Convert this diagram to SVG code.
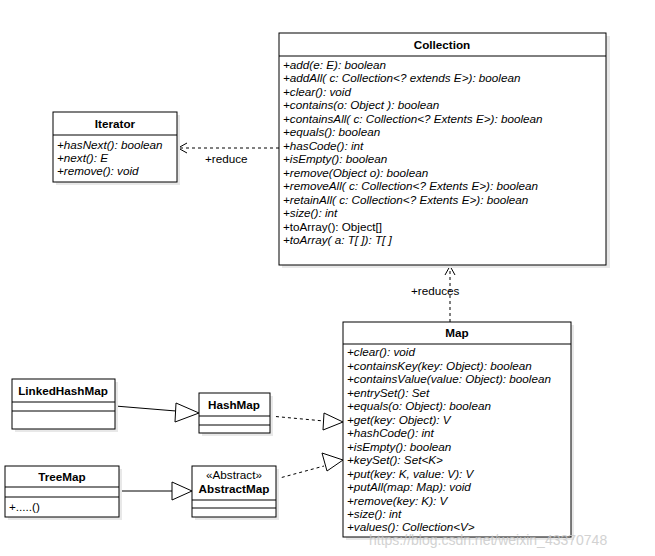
<svg xmlns="http://www.w3.org/2000/svg" width="655" height="556" viewBox="0 0 655 556">
<style>
.box{fill:#fff;stroke:#000;stroke-width:1}
.sh{fill:#e8e8e8}
.t{font-family:"Liberation Sans",Arial,sans-serif;font-size:11.7px;fill:#000}
.i{font-style:italic}
.b{font-weight:bold}
.c{text-anchor:middle}
.sl{stroke:#000;stroke-width:1;fill:none}
.dl{stroke:#000;stroke-width:1;fill:none;stroke-dasharray:3 3}
.tri{fill:#fff;stroke:#000;stroke-width:1}
.wm{font-family:"Liberation Sans",Arial,sans-serif;font-size:14px;fill:#c8c8c8;opacity:0.8}
</style>
<defs>
<marker id="open" markerWidth="12" markerHeight="12" refX="10" refY="6" orient="auto" markerUnits="userSpaceOnUse">
<path d="M1,1 L10,6 L1,11" fill="none" stroke="#000" stroke-width="1"/>
</marker>
</defs>
<rect width="655" height="556" fill="#fff"/>

<g id="connectors">
<line class="dl" x1="279" y1="148" x2="178" y2="148" marker-end="url(#open)"/>
<text class="t" x="205" y="163">+reduce</text>
<line class="dl" x1="450" y1="322" x2="450" y2="266" marker-end="url(#open)"/>
<text class="t" x="411" y="295">+reduces</text>
<line class="sl" x1="115" y1="406" x2="176" y2="411"/>
<polygon class="tri" points="199,413 176,403 175,422"/>
<line class="dl" x1="270" y1="416" x2="324" y2="421"/>
<polygon class="tri" points="343,422 324,413 323,430"/>
<line class="sl" x1="119" y1="491" x2="172" y2="491"/>
<polygon class="tri" points="192,491 172,482 172,500"/>
<line class="dl" x1="276" y1="479" x2="324" y2="466"/>
<polygon class="tri" points="343,460 322,453 327,471"/>
</g>

<g id="Collection">
<rect class="sh" x="282" y="36" width="328" height="232"/>
<rect class="box" x="279" y="33" width="327" height="232"/>
<line class="sl" x1="279" y1="56" x2="606" y2="56"/>
<text class="t b c" x="442" y="49">Collection</text>
<text class="t i" x="283" y="69">+add(e: E): boolean</text>
<text class="t i" x="283" y="82">+addAll( c: Collection&lt;? extends E&gt;): boolean</text>
<text class="t i" x="283" y="96">+clear(): void</text>
<text class="t i" x="283" y="109">+contains(o: Object ): boolean</text>
<text class="t i" x="283" y="123">+containsAll( c: Collection&lt;? Extents E&gt;): boolean</text>
<text class="t i" x="283" y="136">+equals(): boolean</text>
<text class="t i" x="283" y="150">+hasCode(): int</text>
<text class="t i" x="283" y="163">+isEmpty(): boolean</text>
<text class="t i" x="283" y="177">+remove(Object o): boolean</text>
<text class="t i" x="283" y="190">+removeAll( c: Collection&lt;? Extents E&gt;): boolean</text>
<text class="t i" x="283" y="204">+retainAll( c: Collection&lt;? Extents E&gt;): boolean</text>
<text class="t i" x="283" y="217">+size(): int</text>
<text class="t" x="283" y="231">+toArray(): Object[]</text>
<text class="t i" x="283" y="244">+toArray( a: T[ ]): T[ ]</text>
</g>

<g id="Iterator">
<rect class="sh" x="56" y="115" width="124" height="70"/>
<rect class="box" x="53" y="112" width="124" height="70"/>
<line class="sl" x1="53" y1="135" x2="177" y2="135"/>
<text class="t b c" x="115" y="128">Iterator</text>
<text class="t i" x="57" y="149">+hasNext(): boolean</text>
<text class="t i" x="57" y="162">+next(): E</text>
<text class="t i" x="57" y="175">+remove(): void</text>
</g>

<g id="Map">
<rect class="sh" x="346" y="325" width="228" height="215"/>
<rect class="box" x="343" y="322" width="228" height="215"/>
<line class="sl" x1="343" y1="344" x2="571" y2="344"/>
<text class="t b c" x="457" y="337">Map</text>
<text class="t i" x="347" y="356">+clear(): void</text>
<text class="t i" x="347" y="370">+containsKey(key: Object): boolean</text>
<text class="t i" x="347" y="383">+containsValue(value: Object): boolean</text>
<text class="t i" x="347" y="397">+entrySet(): Set</text>
<text class="t i" x="347" y="410">+equals(o: Object): boolean</text>
<text class="t i" x="347" y="424">+get(key: Object): V</text>
<text class="t i" x="347" y="437">+hashCode(): int</text>
<text class="t i" x="347" y="451">+isEmpty(): boolean</text>
<text class="t i" x="347" y="464">+keySet(): Set&lt;K&gt;</text>
<text class="t i" x="347" y="478">+put(key: K, value: V): V</text>
<text class="t i" x="347" y="491">+putAll(map: Map): void</text>
<text class="t i" x="347" y="505">+remove(key: K): V</text>
<text class="t i" x="347" y="518">+size(): int</text>
<text class="t i" x="347" y="531">+values(): Collection&lt;V&gt;</text>
</g>

<g id="LinkedHashMap">
<rect class="sh" x="15" y="382" width="103" height="50"/>
<rect class="box" x="12" y="379" width="103" height="50"/>
<line class="sl" x1="12" y1="402" x2="115" y2="402"/>
<line class="sl" x1="12" y1="411" x2="115" y2="411"/>
<text class="t b c" x="63" y="395">LinkedHashMap</text>
</g>

<g id="HashMap">
<rect class="sh" x="202" y="396" width="71" height="40"/>
<rect class="box" x="199" y="393" width="71" height="40"/>
<line class="sl" x1="199" y1="416" x2="270" y2="416"/>
<line class="sl" x1="199" y1="425" x2="270" y2="425"/>
<text class="t b c" x="234" y="409">HashMap</text>
</g>

<g id="TreeMap">
<rect class="sh" x="8" y="469" width="114" height="51"/>
<rect class="box" x="5" y="466" width="114" height="51"/>
<line class="sl" x1="5" y1="487" x2="119" y2="487"/>
<line class="sl" x1="5" y1="497" x2="119" y2="497"/>
<text class="t b c" x="62" y="481">TreeMap</text>
<text class="t" x="9" y="511">+.....()</text>
</g>

<g id="AbstractMap">
<rect class="sh" x="195" y="469" width="84" height="51"/>
<rect class="box" x="192" y="466" width="84" height="51"/>
<line class="sl" x1="192" y1="500" x2="276" y2="500"/>
<line class="sl" x1="192" y1="508" x2="276" y2="508"/>
<text class="t c" x="234" y="479">«Abstract»</text>
<text class="t b c" x="234" y="493">AbstractMap</text>
</g>

<text class="wm" x="369" y="545">https://blog.csdn.net/weixin_43370748</text>
</svg>
